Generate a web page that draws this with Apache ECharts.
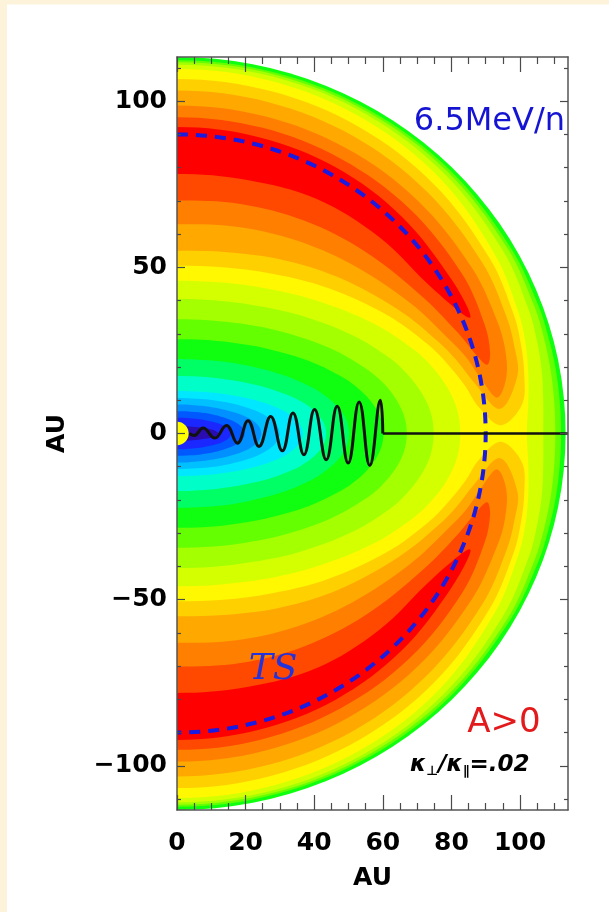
<!DOCTYPE html>
<html>
<head>
<meta charset="utf-8">
<script src="https://cdn.jsdelivr.net/npm/echarts@6/dist/echarts.min.js"></script>
<style>
  html, body { margin: 0; padding: 0; background: #fdf3da; }
  #chart { width: 609px; height: 912px; }
</style>
</head>
<body>
<div id="chart"></div>
<script>
// ---- axis ranges and ticks (AU) ----
const xExtent = [0, 114];
const yExtent = [-113.3, 113.3];
const xMajorTicks = [0, 20, 40, 60, 80, 100];
const xMinorTicks = [5, 10, 15, 25, 30, 35, 45, 50, 55, 65, 70, 75, 85, 90, 95, 105, 110];
const yMajorTicks = [-100, -50, 0, 50, 100];
const yMinorTicks = [-110, -90, -80, -70, -60, -40, -30, -20, -10, 10, 20, 30, 40, 60, 70, 80, 90, 110];

// ---- intensity bands ----
// heliolatitude (deg) at which band edges are listed; southern half is the mirror image
const edgeAngles = [0, 5, 10, 15, 20, 30, 45, 60, 75, 90];

// radius (AU) where intensity level k (k = 1..17) begins, going outward
const levelStart = [
  [12.0, 10.9, 8.8, 7.0, 5.7, 4.2, 3.1, 2.5, 2.3, 2.2],
  [15.8, 15.2, 13.8, 12.2, 10.6, 8.4, 6.4, 5.4, 4.9, 4.7],
  [19.7, 19.2, 17.8, 16.0, 14.3, 11.6, 9.0, 7.6, 6.9, 6.7],
  [24.6, 24.0, 22.4, 20.3, 18.2, 14.8, 11.6, 9.8, 9.0, 8.7],
  [29.9, 29.2, 27.2, 24.8, 22.3, 18.2, 14.3, 12.1, 11.0, 10.7],
  [36.7, 35.7, 33.3, 30.1, 27.0, 21.9, 17.1, 14.5, 13.2, 12.8],
  [43.5, 42.7, 40.4, 37.4, 34.1, 28.5, 22.7, 19.5, 17.8, 17.3],
  [50.2, 49.5, 47.4, 44.5, 41.4, 35.4, 28.9, 25.1, 23.0, 22.4],
  [60.2, 59.4, 57.2, 54.2, 50.7, 44.0, 36.3, 31.6, 29.2, 28.4],
  [67.0, 66.3, 64.3, 61.5, 58.1, 51.4, 43.3, 38.1, 35.3, 34.4],
  [74.8, 74.2, 72.2, 69.4, 66.1, 59.1, 50.4, 44.6, 41.5, 40.5],
  [82.6, 82.0, 80.0, 77.1, 73.6, 66.2, 56.8, 50.6, 47.1, 46.0],
  [null, 88.5, 85.0, 81.5, 78.0, 71.0, 62.0, 55.5, 51.8, 50.5],
  [null, null, 88.0, 84.5, 81.0, 74.5, 66.5, 60.5, 56.5, 55.0],
  [null, null, 90.5, 87.5, 84.0, 78.5, 72.0, 67.5, 64.5, 63.0],
  [null, null, null, 90.5, 87.5, 82.5, 77.5, 74.0, 71.5, 70.1],
  [null, null, null, null, null, 86.5, 83.5, 81.5, 79.0, 78.1]
];
// radius (AU) where intensity level k (k = 9..17) ends again, towards the boundary
const levelEnd = [
  [112.0, 112.0, 112.1, 112.1, 112.2, 112.2, 112.3, 112.3, 112.3, 112.3],
  [110.3, 110.4, 110.6, 110.8, 111.0, 111.3, 111.5, 111.6, 111.7, 111.7],
  [106.8, 107.2, 108.0, 108.6, 109.1, 109.8, 110.4, 110.8, 111.0, 111.0],
  [102.0, 102.8, 104.0, 105.2, 106.0, 107.2, 108.5, 109.2, 109.6, 109.7],
  [null, 101.0, 102.8, 103.8, 104.5, 105.3, 106.0, 106.4, 106.6, 106.7],
  [null, null, 100.8, 101.8, 102.3, 102.8, 103.0, 103.2, 103.2, 103.2],
  [null, null, 97.5, 99.0, 99.3, 99.4, 99.2, 99.0, 98.8, 98.7],
  [null, null, null, 94.5, 95.5, 96.0, 95.8, 95.5, 95.3, 95.2],
  [null, null, null, null, null, 92.5, 92.5, 92.5, 92.3, 92.2]
];
// low-latitude tips of the lobes of levels 13..17
const tipAngle = [1.5, 4.5, 6.6, 12.9, 22.2];
const tipRadius = [94.5, 94.5, 94.0, 92.8, 92.3];

const rimLevel = 8;             // level found along the outer boundary
const boundaryRadius = 113.3;   // outer edge of the modulation region
const shockRadius = 90;         // termination shock
const sunRadius = 3.4;

// current sheet: wavy part, then flat beyond
const sheetX = [3.6, 5.0, 7.6, 11.0, 14.4, 17.6, 20.7, 23.9, 27.3, 30.7, 33.8, 37.0, 40.1, 43.5, 46.7, 49.9, 53.1, 56.2, 59.3, 60.0];
const sheetY = [0, -0.6, 1.65, -1.35, 2.4, -2.9, 3.85, -3.9, 5.15, -5.2, 6.2, -6.4, 7.2, -7.9, 8.2, -8.9, 9.5, -9.6, 10.0, 0];
const flatX = [60.0, 114];
const flatY = [0, 0];

const levelColors = ['#2a0cb0', '#1a28ff', '#0058ff', '#0090ff', '#00c0ff', '#00e8ff', '#00ffc8', '#00ff64',
  '#10ff10', '#64ff00', '#a4ff00', '#d4ff00', '#fff800', '#ffd000', '#ffa800', '#ff8000', '#ff4800', '#ff0000'];

// ---- geometry helpers (data space) ----
function polar(deg, r) {
  const t = deg * Math.PI / 180;
  return [r * Math.cos(t), r * Math.sin(t)];
}
// closed contour mirrored into the four quadrants (the half x<0 is clipped by the grid)
function loopPoints(radii) {
  const pts = [];
  const n = edgeAngles.length;
  for (let i = 0; i < n; i++) pts.push(polar(edgeAngles[i], radii[i]));
  for (let i = n - 2; i >= 0; i--) pts.push(polar(180 - edgeAngles[i], radii[i]));
  for (let i = 1; i < n; i++) pts.push(polar(180 + edgeAngles[i], radii[i]));
  for (let i = n - 2; i >= 1; i--) pts.push(polar(360 - edgeAngles[i], radii[i]));
  return pts;
}
// crescent of one hemisphere, closed at its low-latitude tip
function crescentPoints(inner, outer, tDeg, tR, sign) {
  const last = edgeAngles.length - 1;
  const idx = [];
  edgeAngles.forEach((a, i) => { if (inner[i] != null) idx.push(i); });
  const rev = idx.slice().reverse();
  const pts = [polar(tDeg, tR)];
  idx.forEach(i => pts.push(polar(edgeAngles[i], outer[i])));
  rev.forEach(i => { if (i !== last) pts.push(polar(180 - edgeAngles[i], outer[i])); });
  pts.push(polar(180 - tDeg, tR));
  idx.forEach(i => { if (i !== last) pts.push(polar(180 - edgeAngles[i], inner[i])); });
  rev.forEach(i => pts.push(polar(edgeAngles[i], inner[i])));
  return pts.map(p => [p[0], sign * p[1]]);
}

// painting order: boundary disk, outer edges, lobes, then inner cores
const firstOuter = rimLevel + 1;                 // levels with an outer edge
const firstLobe = firstOuter + 4;                // levels that split into two lobes
const topLevel = levelColors.length - 1;
const bandShapes = [{ disk: true, color: levelColors[rimLevel] }];
for (let k = firstOuter; k < firstLobe; k++) {
  bandShapes.push({ pts: loopPoints(levelEnd[k - firstOuter]), color: levelColors[k] });
}
for (let k = firstLobe; k <= topLevel; k++) {
  [1, -1].forEach(sign => bandShapes.push({
    pts: crescentPoints(levelStart[k - 1], levelEnd[k - firstOuter], tipAngle[k - firstLobe], tipRadius[k - firstLobe], sign),
    color: levelColors[k]
  }));
}
for (let k = firstLobe - 1; k >= 1; k--) bandShapes.push({ pts: loopPoints(levelStart[k - 1]), color: levelColors[k - 1] });

function halfEllipsePath(c, size, close) {
  const [cx, cy] = c, rx = size[0], ry = size[1];
  return 'M' + cx + ' ' + (cy - ry) +
    ' A' + rx + ' ' + ry + ' 0 0 1 ' + (cx + rx) + ' ' + cy +
    ' A' + rx + ' ' + ry + ' 0 0 1 ' + cx + ' ' + (cy + ry) + (close ? ' Z' : '');
}

// ---- styles ----
const frameLine = { color: '#555555', width: 1.5 };
const tickLine = { color: '#4a4a4a', width: 1.2 };
const tickText = { fontFamily: 'DejaVu Sans', fontSize: 25, fontWeight: 'bold', color: '#000' };
const fmt = v => String(v).replace('-', '\u2212');

function makeAxis(extent, position, ticks, tickLen, extra) {
  return Object.assign({
    type: 'value', min: extent[0], max: extent[1], position: position, z: 10,
    axisLine: { show: false, onZero: false },
    axisTick: { show: true, inside: true, length: tickLen, customValues: ticks, lineStyle: tickLine },
    axisLabel: { show: false },
    splitLine: { show: false }
  }, extra || {});
}
const frame = { axisLine: { show: true, onZero: false, lineStyle: frameLine } };

const chart = echarts.init(document.getElementById('chart'), null, { renderer: 'canvas' });
chart.setOption({
  animation: false,
  backgroundColor: '#fdf3da',
  grid: { left: 177, top: 57, width: 391, height: 753, containLabel: false },
  xAxis: [
    makeAxis(xExtent, 'bottom', xMajorTicks, 15, Object.assign({}, frame, {
      axisLabel: Object.assign({ show: true, customValues: xMajorTicks, margin: 21, formatter: fmt }, tickText),
      name: 'AU', nameLocation: 'middle', nameGap: 56, nameTextStyle: tickText
    })),
    makeAxis(xExtent, 'top', xMajorTicks, 15, frame),
    makeAxis(xExtent, 'bottom', xMinorTicks, 7),
    makeAxis(xExtent, 'top', xMinorTicks, 7)
  ],
  yAxis: [
    makeAxis(yExtent, 'left', yMajorTicks, 8, Object.assign({}, frame, {
      axisLabel: Object.assign({ show: true, customValues: yMajorTicks, margin: 10, formatter: fmt }, tickText),
      name: 'AU', nameLocation: 'middle', nameGap: 107, nameTextStyle: tickText
    })),
    makeAxis(yExtent, 'right', yMajorTicks, 8, frame),
    makeAxis(yExtent, 'left', yMinorTicks, 4),
    makeAxis(yExtent, 'right', yMinorTicks, 4)
  ],
  graphic: [
    { type: 'rect', x: 7, y: 4.5, shape: { width: 602, height: 908 }, style: { fill: '#ffffff' }, z: -100, silent: true },
    { type: 'text', x: 565, y: 122, z: 100, silent: true,
      style: { text: '6.5MeV/n', font: '32px "DejaVu Sans"', fill: '#1414d2', align: 'right', verticalAlign: 'middle' } },
    { type: 'text', x: 273, y: 670, z: 100, silent: true,
      style: { text: 'TS', font: 'italic 36px "DejaVu Serif"', fill: '#2233dd', align: 'center', verticalAlign: 'middle' } },
    { type: 'text', x: 504, y: 723, z: 100, silent: true,
      style: { text: 'A>0', font: '34px "DejaVu Sans"', fill: '#e31a1c', align: 'center', verticalAlign: 'middle' } },
    { type: 'text', x: 410, y: 754, z: 100, silent: true,
      style: {
        text: '{a|\u03ba}{b|\u22a5}{a|/\u03ba}{b|\u2225}{a|=.02}', align: 'left', verticalAlign: 'top',
        rich: {
          a: { fontFamily: 'DejaVu Sans', fontSize: 23, fontWeight: 'bold', fontStyle: 'italic', fill: '#000', lineHeight: 24, verticalAlign: 'top' },
          b: { fontFamily: 'DejaVu Sans', fontSize: 13, fontWeight: 'bold', fill: '#000', lineHeight: 24, verticalAlign: 'bottom' }
        }
      } }
  ],
  series: [
    {
      type: 'custom', name: 'intensity', coordinateSystem: 'cartesian2d', xAxisIndex: 0, yAxisIndex: 0,
      clip: true, z: 1, silent: true,
      data: bandShapes.map(() => [0, 0]),
      renderItem: function (params, api) {
        const s = bandShapes[params.dataIndex];
        if (s.disk) {
          return { type: 'path', shape: { pathData: halfEllipsePath(api.coord([0, 0]), api.size([boundaryRadius, boundaryRadius]), true) },
                   style: { fill: s.color } };
        }
        return { type: 'polygon', shape: { points: s.pts.map(p => api.coord(p)), smooth: 0.35 }, style: { fill: s.color } };
      }
    },
    {
      type: 'custom', name: 'TS', coordinateSystem: 'cartesian2d', clip: true, z: 3, silent: true,
      data: [[0, 0]],
      renderItem: function (params, api) {
        return { type: 'path',
          shape: { pathData: halfEllipsePath(api.coord([0, 0]), api.size([shockRadius, shockRadius]), false) },
          style: { fill: 'none', stroke: '#1a1ae0', lineWidth: 4, lineDash: [11, 8] } };
      }
    },
    {
      type: 'line', name: 'sheet', smooth: 0.45, symbol: 'none', z: 4, silent: true,
      data: sheetX.map((x, i) => [x, sheetY[i]]),
      lineStyle: { color: '#111', width: 3 }
    },
    {
      type: 'line', name: 'sheetFlat', symbol: 'none', z: 4, silent: true,
      data: flatX.map((x, i) => [x, flatY[i]]),
      lineStyle: { color: '#111', width: 2.4 }
    },
    {
      type: 'custom', name: 'Sun', coordinateSystem: 'cartesian2d', clip: true, z: 5, silent: true,
      data: [[0, 0]],
      renderItem: function (params, api) {
        const c = api.coord([0, 0]);
        return { type: 'sector',
          shape: { cx: c[0], cy: c[1], r0: 0, r: api.size([sunRadius, 0])[0], startAngle: -Math.PI / 2, endAngle: Math.PI / 2, clockwise: true },
          style: { fill: '#ffff00' } };
      }
    }
  ]
});
</script>
</body>
</html>
